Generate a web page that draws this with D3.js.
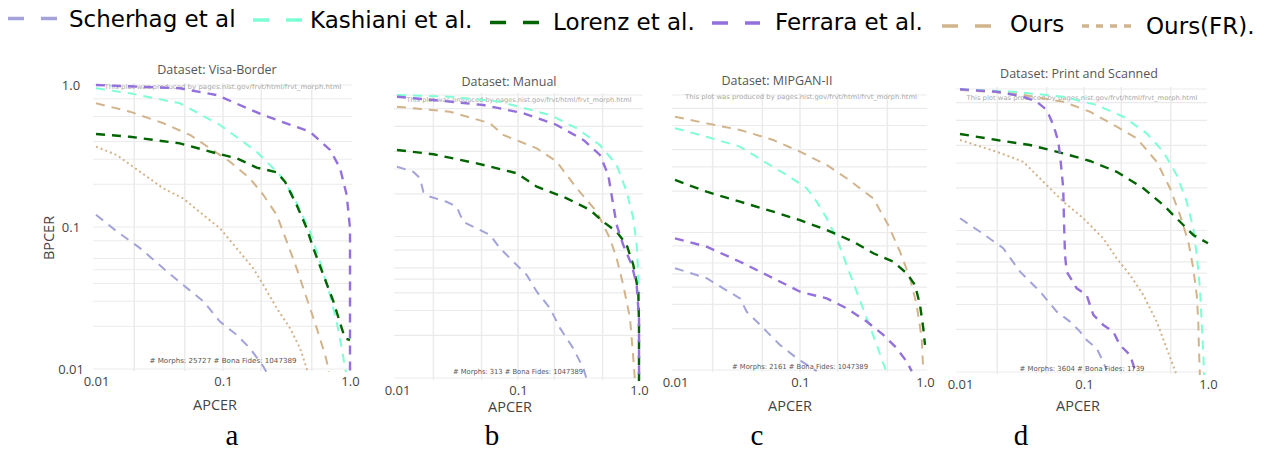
<!DOCTYPE html>
<html><head><meta charset="utf-8">
<script src="https://cdn.jsdelivr.net/npm/d3@7"></script>
<style>body{margin:0;background:#fff}svg{display:block}</style>
</head><body><svg id="c" width="1265" height="452"></svg>
<script>
// ---------------- DATA (APCER, BPCER) ----------------
const seriesNames = ["Scherhag et al", "Kashiani et al.", "Lorenz et al.", "Ferrara et al.", "Ours", "Ours(FR)."];
const datasetTitles = ["Dataset: Visa-Border", "Dataset: Manual", "Dataset: MIPGAN-II", "Dataset: Print and Scanned"];
const panelLetters = ["a", "b", "c", "d"];
const topNotes = [
  "This plot was produced by pages.nist.gov/frvt/html/frvt_morph.html",
  "This plot was produced by pages.nist.gov/frvt/html/frvt_morph.html",
  "This plot was produced by pages.nist.gov/frvt/html/frvt_morph.html",
  "This plot was produced by pages.nist.gov/frvt/html/frvt_morph.html"
];
const bottomNotes = [
  "# Morphs: 25727 # Bona Fides: 1047389",
  "# Morphs: 313 # Bona Fides: 1047389",
  "# Morphs: 2161 # Bona Fides: 1047389",
  "# Morphs: 3604 # Bona Fides: 1739"
];
const xTickValues = [0.01, 0.1, 1];
const xTickLabels = ["0.01", "0.1", "1.0"];
const yTickValues = [0.01, 0.1, 1];
const yTickLabels = ["0.01", "0.1", "1.0"];
const gridYValues = [0.01,0.02,0.03,0.04,0.05,0.06,0.08,0.1,0.2,0.3,0.4,0.6,0.8,1];
const gridXValues = [0.02, 0.05, 0.1, 0.2, 0.5];

// Visa-Border
const visaScherhag = [[0.01,0.122],[0.0146,0.093],[0.0222,0.071],[0.034,0.051],[0.0486,0.039],[0.07,0.030],[0.095,0.0215],[0.128,0.0174],[0.163,0.014],[0.208,0.0104],[0.22,0.0095]];
const visaKashiani = [[0.01,0.948],[0.0185,0.874],[0.0458,0.743],[0.0946,0.523],[0.184,0.339],[0.281,0.232],[0.356,0.168],[0.484,0.093],[0.581,0.057],[0.697,0.033],[0.785,0.0215],[0.86,0.0141],[0.914,0.0102],[0.93,0.0095]];
const visaLorenz = [[0.01,0.452],[0.0185,0.432],[0.0458,0.388],[0.089,0.33],[0.128,0.305],[0.184,0.262],[0.265,0.243],[0.308,0.208],[0.38,0.143],[0.456,0.098],[0.514,0.071],[0.617,0.046],[0.739,0.030],[0.86,0.0194],[0.914,0.0164],[1.0,0.016]];
const visaFerrara = [[0.01,1.0],[0.0458,0.948],[0.089,0.85],[0.2065,0.615],[0.484,0.469],[0.697,0.349],[0.834,0.26],[0.942,0.168],[1.0,0.098],[1.0,0.0095]];
const visaOurs = [[0.01,0.743],[0.0185,0.649],[0.0339,0.538],[0.055,0.445],[0.079,0.358],[0.1136,0.288],[0.163,0.22],[0.208,0.168],[0.265,0.1215],[0.318,0.0788],[0.38,0.0512],[0.456,0.0315],[0.547,0.0194],[0.636,0.0126],[0.674,0.0102],[0.68,0.0095]];
const visaOursFR = [[0.01,0.368],[0.0146,0.321],[0.0222,0.245],[0.0339,0.187],[0.0486,0.159],[0.07,0.1215],[0.0946,0.098],[0.128,0.0708],[0.173,0.0512],[0.208,0.039],[0.265,0.0268],[0.337,0.0194],[0.404,0.014],[0.456,0.0101],[0.46,0.0095]];

// Manual
const manualScherhag = [[0.01,0.311],[0.0136,0.287],[0.0155,0.258],[0.0165,0.207],[0.0188,0.191],[0.0257,0.176],[0.0311,0.1625],[0.0353,0.127],[0.0456,0.114],[0.0588,0.1025],[0.071,0.0826],[0.0915,0.0664],[0.118,0.0535],[0.143,0.0407],[0.184,0.0311],[0.2225,0.0225],[0.286,0.0162],[0.347,0.0117],[0.374,0.0095]];
const manualKashiani = [[0.01,1.0],[0.0274,0.973],[0.071,0.897],[0.184,0.722],[0.306,0.582],[0.475,0.443],[0.654,0.32],[0.791,0.207],[0.897,0.1345],[0.957,0.087],[0.99,0.0507],[1.0,0.0264],[1.0,0.0095]];
const manualLorenz = [[0.01,0.409],[0.02,0.381],[0.0456,0.329],[0.0975,0.28],[0.143,0.225],[0.253,0.186],[0.394,0.154],[0.507,0.127],[0.654,0.108],[0.791,0.087],[0.897,0.063],[0.987,0.0407],[1.0,0.0237],[1.0,0.0095]];
const manualFerrara = [[0.01,0.973],[0.02,0.922],[0.0516,0.85],[0.1106,0.743],[0.209,0.614],[0.347,0.481],[0.475,0.377],[0.557,0.272],[0.613,0.167],[0.654,0.1206],[0.741,0.087],[0.871,0.063],[0.957,0.0454],[1.0,0.0264],[1.0,0.0095]];
const manualOurs = [[0.01,0.827],[0.0274,0.762],[0.0588,0.631],[0.0756,0.522],[0.143,0.42],[0.209,0.338],[0.306,0.219],[0.447,0.15],[0.575,0.097],[0.654,0.07],[0.741,0.0454],[0.843,0.0264],[0.897,0.0138],[0.927,0.0095]];

// MIPGAN-II
const mipScherhag = [[0.01,0.055],[0.0179,0.0465],[0.0243,0.0393],[0.0331,0.0332],[0.0375,0.0265],[0.0451,0.0225],[0.0542,0.019],[0.0692,0.0152],[0.0941,0.0122],[0.136,0.0098]];
const mipKashiani = [[0.01,0.573],[0.0179,0.497],[0.0331,0.421],[0.0542,0.319],[0.0783,0.262],[0.113,0.21],[0.136,0.1675],[0.1635,0.127],[0.197,0.0907],[0.236,0.058],[0.284,0.0371],[0.342,0.0238],[0.411,0.0152],[0.479,0.0103],[0.49,0.0095]];
const mipLorenz = [[0.01,0.241],[0.0179,0.198],[0.0331,0.1675],[0.0611,0.1417],[0.1,0.123],[0.1635,0.1043],[0.267,0.0857],[0.386,0.0706],[0.558,0.0613],[0.714,0.0505],[0.832,0.0415],[0.912,0.0297],[0.969,0.0201],[1.0,0.0152]];
const mipFerrara = [[0.01,0.0907],[0.0179,0.0788],[0.0331,0.0613],[0.0542,0.0491],[0.1,0.0371],[0.1635,0.0332],[0.236,0.0281],[0.342,0.0225],[0.464,0.018],[0.594,0.0144],[0.714,0.0115],[0.783,0.0098]];
const mipOurs = [[0.01,0.695],[0.0179,0.622],[0.0331,0.557],[0.0611,0.471],[0.1,0.387],[0.1635,0.31],[0.236,0.248],[0.386,0.177],[0.509,0.113],[0.631,0.0725],[0.759,0.0465],[0.858,0.0297],[0.941,0.017],[0.969,0.0098]];

// Print and Scanned
const psScherhag = [[0.01,0.122],[0.0145,0.098],[0.0223,0.075],[0.0305,0.0512],[0.0442,0.037],[0.0603,0.0267],[0.0771,0.0227],[0.0929,0.0193],[0.105,0.0168],[0.1266,0.0147],[0.143,0.0118],[0.152,0.0103]];
const psKashiani = [[0.01,0.995],[0.0269,0.957],[0.068,0.882],[0.1266,0.77],[0.2075,0.637],[0.32,0.486],[0.436,0.36],[0.559,0.247],[0.673,0.16],[0.761,0.1036],[0.811,0.0671],[0.861,0.039],[0.889,0.0227],[0.917,0.0132],[0.93,0.0095]];
const psLorenz = [[0.01,0.481],[0.0198,0.436],[0.0367,0.402],[0.068,0.351],[0.1117,0.31],[0.1835,0.26],[0.301,0.199],[0.436,0.1514],[0.632,0.1094],[0.761,0.093],[1.0,0.0812]];
const psFerrara = [[0.01,0.995],[0.0198,0.957],[0.0324,0.882],[0.0415,0.813],[0.05,0.711],[0.0566,0.557],[0.0621,0.425],[0.0649,0.306],[0.068,0.199],[0.069,0.1154],[0.0703,0.0671],[0.0725,0.0512],[0.0873,0.039],[0.105,0.035],[0.1189,0.0253],[0.143,0.0215],[0.172,0.0193],[0.195,0.0155],[0.235,0.0132],[0.266,0.0095]];
const psOurs = [[0.01,0.984],[0.0269,0.932],[0.068,0.813],[0.1117,0.691],[0.1835,0.542],[0.266,0.449],[0.386,0.306],[0.494,0.199],[0.594,0.1288],[0.694,0.0834],[0.761,0.054],[0.811,0.035],[0.835,0.0227],[0.845,0.0147],[0.86,0.0095]];
const psOursFR = [[0.01,0.436],[0.0198,0.36],[0.0324,0.306],[0.047,0.221],[0.068,0.16],[0.0987,0.122],[0.143,0.088],[0.1835,0.0636],[0.235,0.0485],[0.301,0.035],[0.386,0.0227],[0.464,0.0147],[0.559,0.0095]];

const panelSeries = [
  [visaScherhag, visaKashiani, visaLorenz, visaFerrara, visaOurs, visaOursFR],
  [manualScherhag, manualKashiani, manualLorenz, manualFerrara, manualOurs, null],
  [mipScherhag, mipKashiani, mipLorenz, mipFerrara, mipOurs, null],
  [psScherhag, psKashiani, psLorenz, psFerrara, psOurs, psOursFR]
];

// ---------------- STYLE / LAYOUT ----------------
const colors = ["#a3a3d9", "#7fffd4", "#006400", "#9370db", "#d2b48c", "#d2b48c"];
const dashes = ["9,7", "9,7", "9,7", "9,7", "9,7", "2,3"];
const widths = [2, 2, 2.4, 2.4, 2, 2];
const drawOrder = [0, 5, 4, 1, 2, 3];

const layout = [
  {x0:96, x1:350, yT:85, yB:369, gx0:93, gx1:352, titleX:217, titleY:74, tnX:223, tnY:89, tnW:237, bnX:223, bnY:363, bnW:147, apX:215, apY:410, letX:232},
  {x0:397, x1:639, yT:95, yB:378, gx0:394, gx1:643, titleX:509, titleY:86, tnX:519, tnY:102, tnW:225, bnX:518, bnY:374, bnW:130, apX:510, apY:412, letX:492},
  {x0:675, x1:925, yT:95, yB:370, gx0:672, gx1:927, titleX:777, titleY:85, tnX:801, tnY:99, tnW:232, bnX:800, bnY:369, bnW:136, apX:790, apY:411, letX:757},
  {x0:960, x1:1208, yT:89, yB:372, gx0:956, gx1:1207, titleX:1079, titleY:78, tnX:1082, tnY:100, tnW:231, bnX:1082, bnY:371, bnW:125, apX:1078, apY:411, letX:1021}
];

const svg = d3.select("#c");
svg.append("rect").attr("width", 1265).attr("height", 452).attr("fill", "#fff");

layout.forEach((L, p) => {
  const xs = d3.scaleLog().domain([0.01, 1]).range([L.x0, L.x1]);
  const ys = d3.scaleLog().domain([0.01, 1]).range([L.yB, L.yT]);
  const g = svg.append("g");

  // grid
  g.selectAll(".gy").data(gridYValues).join("line")
    .attr("x1", L.gx0).attr("x2", L.gx1)
    .attr("y1", d => ys(d)).attr("y2", d => ys(d))
    .attr("stroke", "#ebebeb").attr("stroke-width", 1.2);
  g.selectAll(".gx").data(gridXValues).join("line")
    .attr("x1", d => xs(d)).attr("x2", d => xs(d))
    .attr("y1", L.yT - 2).attr("y2", L.yB + 2)
    .attr("stroke", "#ebebeb").attr("stroke-width", 1.5);

  // title
  g.append("text").attr("x", L.titleX).attr("y", L.titleY)
    .attr("text-anchor", "middle").attr("font-family", "'Open Sans', sans-serif")
    .attr("font-size", 12.5).attr("fill", "#555").text(datasetTitles[p]);

  // notes
  g.append("text").attr("x", L.tnX).attr("y", L.tnY)
    .attr("text-anchor", "middle").attr("font-family", "'DejaVu Sans', sans-serif")
    .attr("font-size", 6.5).attr("fill", "#a8a8a8")
    .attr("textLength", L.tnW).attr("lengthAdjust", "spacingAndGlyphs").text(topNotes[p]);

  // clip
  const cid = "clip" + p;
  svg.append("clipPath").attr("id", cid).append("rect")
    .attr("x", L.x0 - 4).attr("y", L.yT - 6).attr("width", L.x1 - L.x0 + 8).attr("height", L.yB - L.yT + 9);

  const line = d3.line().x(d => xs(d[0])).y(d => ys(d[1]));
  const lg = g.append("g").attr("clip-path", `url(#${cid})`);
  drawOrder.forEach(si => {
    const data = panelSeries[p][si];
    if (!data) return;
    lg.append("path").datum(data).attr("d", line)
      .attr("fill", "none").attr("stroke", colors[si])
      .attr("stroke-width", widths[si]).attr("stroke-dasharray", dashes[si]);
  });

  g.append("text").attr("x", L.bnX).attr("y", L.bnY)
    .attr("text-anchor", "middle").attr("font-family", "'DejaVu Sans', sans-serif")
    .attr("font-size", 7).attr("fill", "#555")
    .attr("textLength", L.bnW).attr("lengthAdjust", "spacingAndGlyphs").text(bottomNotes[p]);

  // x axis
  const xAxis = d3.axisBottom(xs).tickValues(xTickValues)
    .tickFormat((d, i) => xTickLabels[i]).tickSize(0);
  const xa = g.append("g").attr("transform", `translate(0,${L.yB + 5})`).call(xAxis);
  xa.select(".domain").remove();
  xa.selectAll("text").attr("font-family", "'Open Sans', sans-serif").attr("font-size", 13).attr("fill", "#444");

  g.append("text").attr("x", L.apX).attr("y", L.apY).attr("text-anchor", "middle")
    .attr("font-family", "'Open Sans', sans-serif").attr("font-size", 14.5).attr("fill", "#444").text("APCER");

  g.append("text").attr("x", L.letX).attr("y", 445).attr("text-anchor", "middle")
    .attr("font-family", "'Liberation Serif', serif").attr("font-size", 29).attr("fill", "#000").text(panelLetters[p]);

  if (p === 0) {
    const yAxis = d3.axisLeft(ys).tickValues(yTickValues)
      .tickFormat((d, i) => yTickLabels[i]).tickSize(0);
    const ya = g.append("g").attr("transform", `translate(${L.x0 - 14},0)`).call(yAxis);
    ya.select(".domain").remove();
    ya.selectAll("text").attr("text-anchor", "middle").attr("x", -11)
      .attr("font-family", "'Open Sans', sans-serif").attr("font-size", 13).attr("fill", "#444");
    g.append("text").attr("transform", "translate(54,238) rotate(-90)")
      .attr("text-anchor", "middle").attr("font-family", "'Open Sans', sans-serif")
      .attr("font-size", 14.5).attr("fill", "#444").text("BPCER");
  }
});

// ---------------- LEGEND ----------------
const legendPos = [
  {lx:8, lw:49, ly:18.5, tx:69, ty:27},
  {lx:253, lw:49, ly:20, tx:310, ty:28},
  {lx:490, lw:50, ly:22.5, tx:553, ty:29.5},
  {lx:712, lw:48, ly:23, tx:775, ty:30},
  {lx:942, lw:50, ly:26, tx:1010, ty:32},
  {lx:1082, lw:51, ly:26, tx:1146, ty:34}
];
const legendDash = ["16,17", "16,17", "16,17", "16,17", "16,17", "7,7"];
const lg = svg.append("g");
seriesNames.forEach((name, i) => {
  const P = legendPos[i];
  lg.append("line").attr("x1", P.lx).attr("x2", P.lx + P.lw).attr("y1", P.ly).attr("y2", P.ly)
    .attr("stroke", colors[i]).attr("stroke-width", 3.5).attr("stroke-dasharray", legendDash[i]);
  lg.append("text").attr("x", P.tx).attr("y", P.ty)
    .attr("font-family", "'DejaVu Sans', sans-serif").attr("font-size", 23).attr("fill", "#000").text(name);
});
</script>
</body></html>
